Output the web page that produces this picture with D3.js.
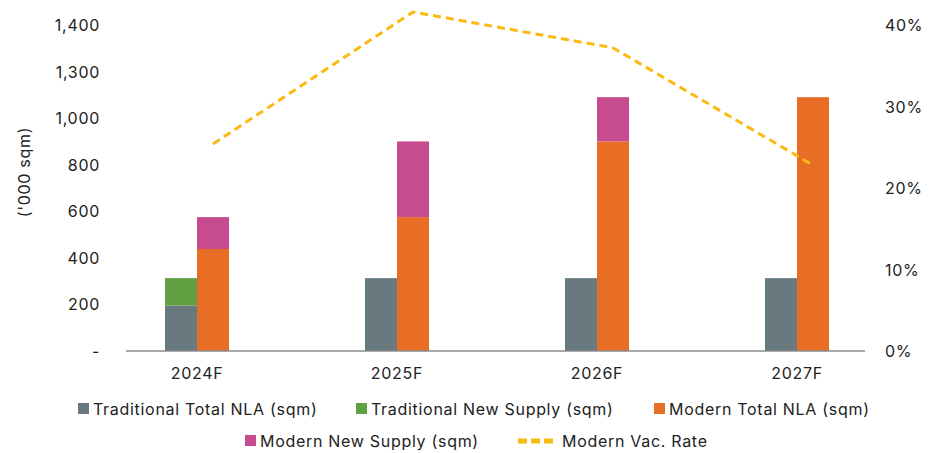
<!DOCTYPE html>
<html>
<head>
<meta charset="utf-8">
<script src="https://cdn.jsdelivr.net/npm/d3@7"></script>
<style>
  html, body { margin: 0; padding: 0; background: #fff; }
  svg { display: block; font-family: "Inter", "Lato", sans-serif; }
  svg text { letter-spacing: 0.7px; }
</style>
</head>
<body>
<svg id="chart" width="935" height="453"></svg>
<script>
const categories = ["2024F", "2025F", "2026F", "2027F"];
const tradTotal = [195, 313, 313, 313];
const tradNew = [118, 0, 0, 0];
const modernTotal = [438, 575, 900, 1090];
const modernNew = [137, 325, 190, 0];
const vacRate = [25.4, 41.6, 37.2, 22.8];
const leftTickValues = [0, 200, 400, 600, 800, 1000, 1200, 1400];
const leftTickLabels = ["-", "200", "400", "600", "800", "1,000", "1,300", "1,400"];
const rightTickValues = [0, 10, 20, 30, 40];
const rightTickLabels = ["0%", "10%", "20%", "30%", "40%"];
const seriesNames = ["Traditional Total NLA (sqm)", "Traditional New Supply (sqm)", "Modern Total NLA (sqm)", "Modern New Supply (sqm)", "Modern Vac. Rate"];
const colors = { trad: "#687980", tradNew: "#62A044", modern: "#E86E25", modernNew: "#C74B8F", vac: "#FBBA12" };

const svg = d3.select("#chart");
const textColor = "#222";
const fs = 16;

const x = d3.scaleBand().domain(categories).range([97, 897]);
const sub = d3.scaleBand().domain(["trad", "modern"]).range([-32, 32]);
const y = d3.scaleLinear().domain([0, 1400]).range([351, 25]);
const yR = d3.scaleLinear().domain([0, 40]).range([351, 25]);
const cx = c => x(c) + x.bandwidth() / 2;

// Bars
const g = svg.append("g");
const stacks = [
  { key: "trad", base: [0,0,0,0], vals: tradTotal, color: colors.trad },
  { key: "trad", base: tradTotal, vals: tradNew, color: colors.tradNew },
  { key: "modern", base: [0,0,0,0], vals: modernTotal, color: colors.modern },
  { key: "modern", base: modernTotal, vals: modernNew, color: colors.modernNew }
];
stacks.forEach(s => {
  g.selectAll(null).data(categories).enter().append("rect")
    .attr("x", c => cx(c) + sub(s.key))
    .attr("width", sub.bandwidth())
    .attr("y", (c, i) => y(s.base[i] + s.vals[i]))
    .attr("height", (c, i) => y(s.base[i]) - y(s.base[i] + s.vals[i]))
    .attr("fill", s.color);
});

// X axis baseline
svg.append("line").attr("x1", 126).attr("x2", 865).attr("y1", y(0)).attr("y2", y(0))
  .attr("stroke", "#8c8c8c").attr("stroke-width", 1.5);

// Category labels
svg.append("g").selectAll("text").data(categories).enter().append("text")
  .attr("x", c => cx(c)).attr("y", 379).attr("text-anchor", "middle")
  .attr("font-size", fs).attr("fill", textColor).text(c => c);

// Left ticks
svg.append("g").selectAll("text").data(leftTickValues).enter().append("text")
  .attr("x", 100).attr("y", v => y(v) + 6).attr("text-anchor", "end")
  .attr("font-size", fs).attr("fill", textColor).text((v, i) => leftTickLabels[i]);

// Right ticks
svg.append("g").selectAll("text").data(rightTickValues).enter().append("text")
  .attr("x", 885).attr("y", v => yR(v) + 6).attr("text-anchor", "start")
  .attr("font-size", fs).attr("fill", textColor).text((v, i) => rightTickLabels[i]);

// Y title
svg.append("text").attr("transform", "translate(30,172) rotate(-90)")
  .attr("text-anchor", "middle").attr("font-size", fs).attr("fill", textColor).text("('000 sqm)");

// Vacancy line
const line = d3.line().x((d, i) => cx(categories[i]) + 16).y(d => yR(d));
svg.append("path").datum(vacRate).attr("d", line).attr("fill", "none")
  .attr("stroke", colors.vac).attr("stroke-width", 3).attr("stroke-dasharray", "8,5");

// Legend
const legendItems = [
  { name: seriesNames[0], color: colors.trad, x: 78, y: 409, type: "rect" },
  { name: seriesNames[1], color: colors.tradNew, x: 356, y: 409, type: "rect" },
  { name: seriesNames[2], color: colors.modern, x: 654, y: 409, type: "rect" },
  { name: seriesNames[3], color: colors.modernNew, x: 245, y: 441, type: "rect" },
  { name: seriesNames[4], color: colors.vac, x: 516, y: 441, type: "line" }
];
const lg = svg.append("g");
legendItems.forEach(it => {
  if (it.type === "rect") {
    lg.append("rect").attr("x", it.x).attr("y", it.y - 6).attr("width", 11).attr("height", 11).attr("fill", it.color);
    lg.append("text").attr("x", it.x + 15).attr("y", it.y + 6).attr("font-size", fs).attr("fill", textColor).text(it.name);
  } else {
    lg.append("line").attr("x1", it.x + 2).attr("x2", it.x + 38).attr("y1", it.y).attr("y2", it.y)
      .attr("stroke", it.color).attr("stroke-width", 5).attr("stroke-dasharray", "9,4").attr("stroke-linecap", "butt");
    lg.append("text").attr("x", it.x + 46).attr("y", it.y + 6).attr("font-size", fs).attr("fill", textColor).text(it.name);
  }
});
</script>
</body>
</html>
